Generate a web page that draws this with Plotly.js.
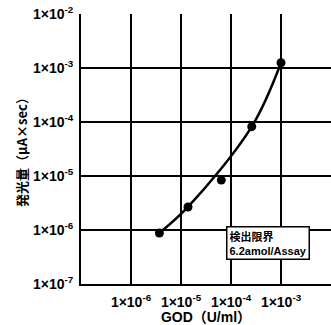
<!DOCTYPE html>
<html><head><meta charset="utf-8">
<script src="https://cdn.plot.ly/plotly-3.0.1.min.js"></script>
<style>html,body{margin:0;padding:0;background:#fff}</style>
</head><body><div id="g" style="width:331px;height:325px"></div>
<script>
const godUml = [3.7e-6, 1.38e-5, 6.4e-5, 2.6e-4, 1.0e-3];
const luminescence = [8.8e-7, 2.67e-6, 8.4e-6, 8.2e-5, 1.25e-3];
// points the drawn smooth curve is guided through (indices into the data)
const curveIdx = [0, 1, 3, 4];
const xTickVals = [1e-6, 1e-5, 1e-4, 1e-3];
const xTickText = ['1×10<sup>-6</sup>', '1×10<sup>-5</sup>', '1×10<sup>-4</sup>', '1×10<sup>-3</sup>'];
const yTickVals = [1e-7, 1e-6, 1e-5, 1e-4, 1e-3, 1e-2];
const yTickText = ['1×10<sup>-7</sup>', '1×10<sup>-6</sup>', '1×10<sup>-5</sup>', '1×10<sup>-4</sup>', '1×10<sup>-3</sup>', '1×10<sup>-2</sup>'];
const fam = 'Liberation Sans, Arial, Noto Sans CJK JP, sans-serif';
const jfam = 'Noto Sans CJK JP, Liberation Sans, sans-serif';
Plotly.newPlot('g', [{
  x: curveIdx.map(i => godUml[i]), y: curveIdx.map(i => luminescence[i]),
  type: 'scatter', mode: 'lines', hoverinfo: 'skip',
  line: {shape: 'spline', smoothing: 1, color: '#000', width: 2.5}
}, {
  x: godUml, y: luminescence, type: 'scatter', mode: 'markers',
  marker: {color: '#000', size: 9}
}], {
  width: 331, height: 325,
  margin: {l: 81, r: 0, t: 14, b: 41},
  paper_bgcolor: '#fff', plot_bgcolor: '#fff',
  showlegend: false,
  font: {family: fam, color: '#000'},
  xaxis: {type: 'log', range: [-7, -2], tickvals: xTickVals, ticktext: xTickText,
    showgrid: true, gridcolor: '#000', gridwidth: 1.5, showline: true, linecolor: '#000', linewidth: 2,
    ticks: '', ticklabelstandoff: 4, tickfont: {size: 14, family: fam, weight: 'bold'},
    title: {text: 'GOD（U/ml）', font: {size: 14, family: fam, weight: 'bold'}, standoff: 4}},
  yaxis: {type: 'log', range: [-7, -2], tickvals: yTickVals, ticktext: yTickText,
    showgrid: true, gridcolor: '#000', gridwidth: 1.5, showline: true, linecolor: '#000', linewidth: 2,
    ticks: '', ticklabelstandoff: 3, tickfont: {size: 14, family: fam, weight: 'bold'},
    title: {text: '発光量（μA×sec）', font: {size: 13, family: jfam, weight: 'bold'}, standoff: 2}},
  annotations: [{
    xref: 'paper', yref: 'paper', x: 0.58, y: 0.09, xanchor: 'left', yanchor: 'bottom',
    text: '検出限界<br>6.2amol/Assay', align: 'left', showarrow: false,
    font: {size: 11, family: fam, weight: 'bold', color: '#000'},
    bgcolor: '#fff', bordercolor: '#000', borderwidth: 1.5, borderpad: 2
  }]
}, {displayModeBar: false, staticPlot: true});
</script></body></html>
